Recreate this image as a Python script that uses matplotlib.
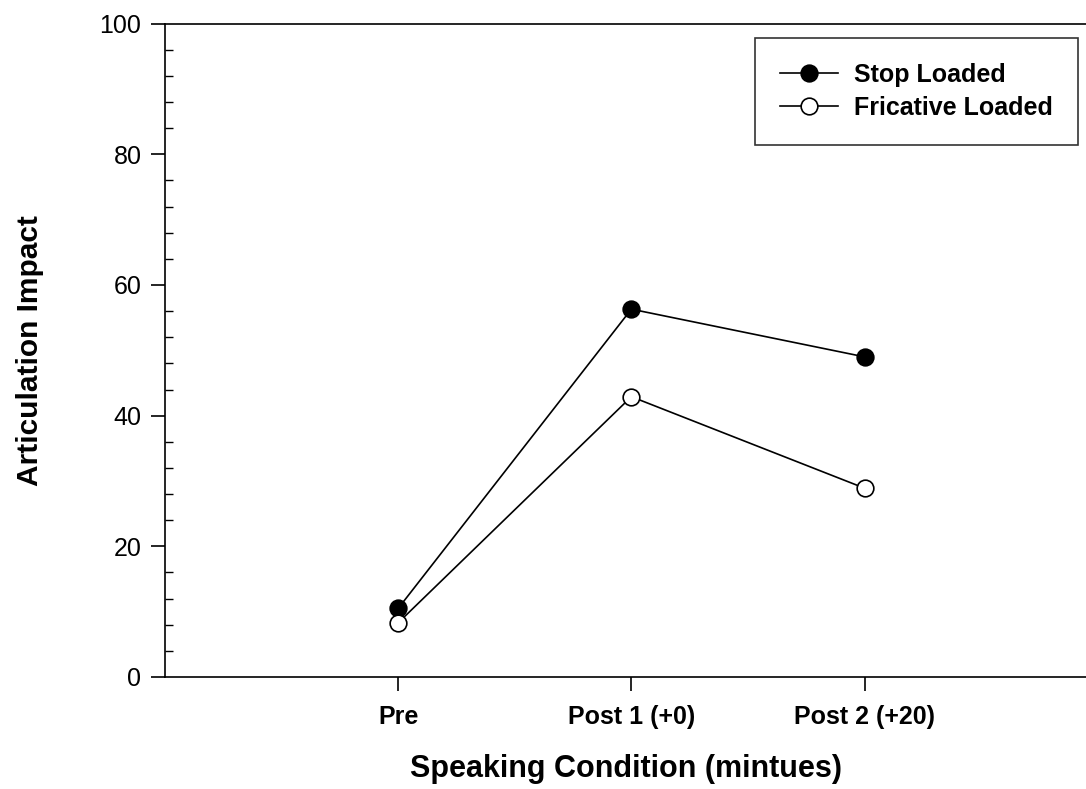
import matplotlib
matplotlib.use("Agg")
import matplotlib.pyplot as plt
from matplotlib.ticker import MultipleLocator

# data
conditions = ["Pre", "Post 1 (+0)", "Post 2 (+20)"]
stop_loaded = [10.5, 56.3, 49.0]
fricative_loaded = [8.3, 42.9, 28.9]

plt.rcParams["font.family"] = ["Liberation Sans", "DejaVu Sans"]

fig = plt.figure(figsize=(10.86, 7.89), dpi=100)
ax = fig.add_axes([0.152, 0.142, 0.848, 0.828])

x = [1, 2, 3]
ax.plot(x, stop_loaded, color="black", linewidth=1.2, marker="o", markersize=12,
        markerfacecolor="black", markeredgecolor="black", markeredgewidth=1.2,
        label="Stop Loaded", zorder=3)
ax.plot(x, fricative_loaded, color="black", linewidth=1.2, marker="o", markersize=12,
        markerfacecolor="white", markeredgecolor="black", markeredgewidth=1.2,
        label="Fricative Loaded", zorder=3)

ax.set_xlim(0, 3.95)
ax.set_ylim(0, 100)
ax.set_xticks(x)
ax.set_xticklabels(conditions, fontsize=18, fontweight="bold")
ax.yaxis.set_major_locator(MultipleLocator(20))
ax.yaxis.set_minor_locator(MultipleLocator(4))
ax.tick_params(axis="y", which="major", direction="out", length=10, width=1.2, labelsize=18, pad=7)
ax.tick_params(axis="y", which="minor", direction="in", length=6, width=1.0)
ax.tick_params(axis="x", which="major", direction="out", length=10, width=1.2, pad=10)

ax.spines["right"].set_visible(False)
for s in ["left", "bottom", "top"]:
    ax.spines[s].set_linewidth(1.2)

ax.set_xlabel("Speaking Condition (mintues)", fontsize=22, fontweight="bold", labelpad=18)
ax.set_ylabel("Articulation Impact", fontsize=21.5, fontweight="bold", labelpad=40)

leg = ax.legend(loc="upper right", bbox_to_anchor=(0.9913, 0.978),
                prop={"weight": "bold", "size": 18}, frameon=True, fancybox=False,
                edgecolor="black", handlelength=2.3, handletextpad=0.65,
                borderpad=1.0, labelspacing=0.36, borderaxespad=0)
leg.get_frame().set_linewidth(1.2)

fig.savefig("out.png", dpi=100)
